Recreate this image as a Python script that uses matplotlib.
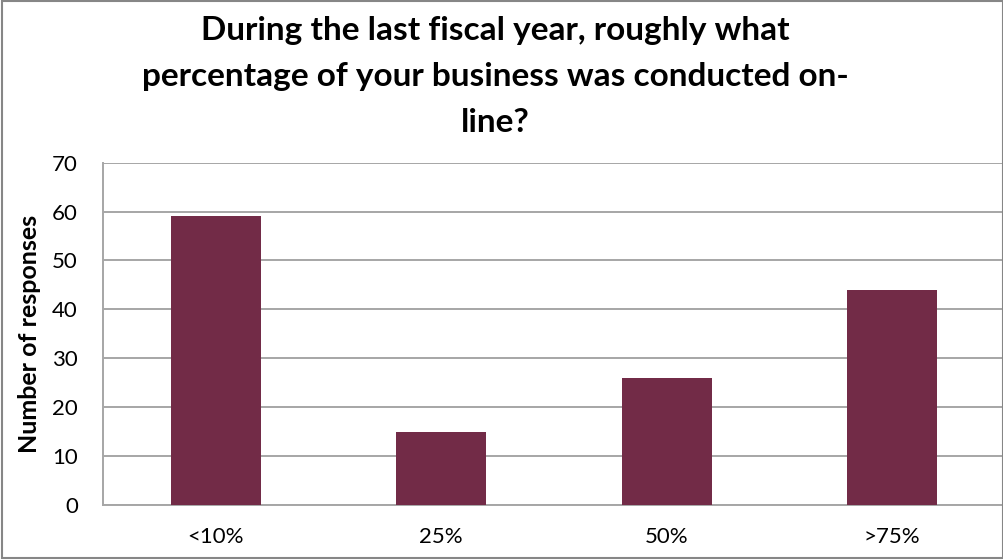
import matplotlib
matplotlib.use("Agg")
import matplotlib.pyplot as plt
from matplotlib.patches import Rectangle

categories = ["<10%", "25%", "50%", ">75%"]
responses = [59, 15, 26, 44]
y_ticks = [0, 10, 20, 30, 40, 50, 60, 70]
title_lines = [
    "During the last fiscal year, roughly what",
    "percentage of your business was conducted on-",
    "line?",
]

plt.rcParams["font.family"] = ["Lato", "DejaVu Sans"]

fig = plt.figure(figsize=(10.04, 5.6), dpi=100)
ax = fig.add_axes([0.1026, 0.0982, 0.8984, 0.6113])

ax.bar(range(len(categories)), responses, width=0.4, color="#722B47", zorder=3)
ax.set_xlim(-0.5, len(categories) - 0.5)
ax.set_ylim(0, 70)
ax.set_yticks(y_ticks)
ax.set_xticks(range(len(categories)))
ax.set_xticklabels(categories)
ax.tick_params(axis="both", length=0, labelsize=16, colors="black")
ax.tick_params(axis="y", pad=18)
ax.tick_params(axis="x", pad=16)
ax.grid(axis="y", color="#a6a6a6", linewidth=1.4, zorder=0)

for side in ["top", "right"]:
    ax.spines[side].set_visible(False)
for side in ["left", "bottom"]:
    ax.spines[side].set_color("#a6a6a6")
    ax.spines[side].set_linewidth(1.4)

ax.set_ylabel("Number of responses", fontsize=18, fontweight="bold")
ax.yaxis.set_label_coords(-0.069, 0.5)

# three-line title, one baseline per line
for i, line in enumerate(title_lines):
    fig.text(0.493, 0.9286 - i * 0.0821, line, ha="center", va="baseline",
             fontsize=24, fontweight="bold")

# outer chart border
fig.patches.append(Rectangle((0.002, 0.003), 0.997, 0.995, transform=fig.transFigure,
                             fill=False, edgecolor="#868686", linewidth=1.5))

fig.savefig("out.png", dpi=100)
